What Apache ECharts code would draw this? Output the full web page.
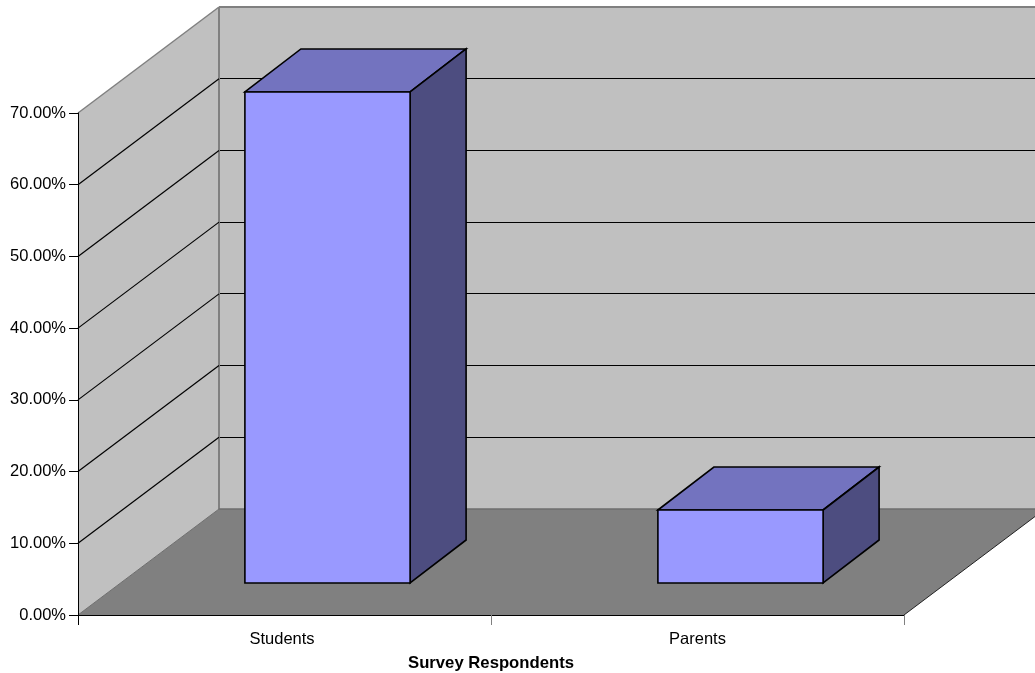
<!DOCTYPE html>
<html>
<head>
<meta charset="utf-8">
<title>Survey Respondents</title>
<style>
  html, body { margin: 0; padding: 0; background: #fff; }
  #chart { width: 1035px; height: 673px; }
</style>
<script src="https://cdn.jsdelivr.net/npm/echarts@6/dist/echarts.min.js"></script>
</head>
<body>
<div id="chart"></div>
<script>
// Share of respondents per group, in percent
const categories = ['Students', 'Parents'];
const shareValues = [68.47, 10.18];
const gridValues = [10, 20, 30, 40, 50, 60];
const axisTitle = 'Survey Respondents';

// Oblique projection used for the fake 3D box
const WALL_DX = 141, WALL_DY = -106;   // front plane to back wall
const BAR_DX = 56, BAR_DY = -43;       // depth of one column
const BAR_SHIFT_X = 43, BAR_SHIFT_Y = -32; // columns stand inside the floor
const BAR_BAND_RATIO = 0.4;

const WALL = '#c0c0c0', FLOOR = '#808080', EDGE = '#808080';
const FACE = '#9999ff', TOP = '#7373bf', SIDE = '#4d4d80';

const poly = (points, fill, stroke, width) => ({
  type: 'polygon',
  shape: { points },
  style: { fill, stroke: stroke || fill, lineWidth: width === undefined ? 1 : width, lineJoin: 'miter' }
});
const line = (a, b, stroke, width) => ({
  type: 'line',
  shape: { x1: a[0], y1: a[1], x2: b[0], y2: b[1] },
  style: { stroke, lineWidth: width, fill: null }
});

// Walls and floor of the plot box
function renderShell(params, api) {
  const rect = params.coordSys;
  const l = rect.x, r = rect.x + rect.width, t = rect.y, b = rect.y + rect.height;
  const dx = WALL_DX, dy = WALL_DY;
  return {
    type: 'group',
    children: [
      poly([[l + dx, t + dy], [r + dx, t + dy], [r + dx, b + dy], [l + dx, b + dy]], WALL, WALL, 0),
      poly([[l, t], [l + dx, t + dy], [l + dx, b + dy], [l, b]], WALL, WALL, 0),
      poly([[l, b], [l + dx, b + dy], [r + dx, b + dy], [r, b]], FLOOR, FLOOR, 0),
      line([l, t], [l + dx, t + dy], EDGE, 1.5),
      line([l + dx, t + dy], [r + dx, t + dy], EDGE, 2),
      line([l + dx, t + dy], [l + dx, b + dy], EDGE, 2),
      line([l + dx, b + dy], [r + dx, b + dy], '#6e6e6e', 1.5),
      line([l, b], [l + dx, b + dy], '#6e6e6e', 1),
      line([r, b], [r + dx, b + dy], '#222222', 1)
    ]
  };
}

// One gridline: diagonal on the side wall, horizontal on the back wall
function renderGridline(params, api) {
  const rect = params.coordSys;
  const y = api.coord([0, api.value(0)])[1];
  const a = [rect.x, y];
  const c = [rect.x + WALL_DX, y + WALL_DY];
  const rowY = Math.floor(c[1]) + 0.5;
  return {
    type: 'group',
    children: [
      line(a, c, '#000000', 1.2),
      line([c[0] + 1, rowY], [rect.x + rect.width + WALL_DX, rowY], '#000000', 1)
    ]
  };
}

// Column drawn as front, top and side faces
function renderColumn(params, api) {
  const band = api.size([1, 0])[0];
  const w = band * BAR_BAND_RATIO;
  const cx = api.coord([api.value(0), 0])[0] + BAR_SHIFT_X;
  const y0 = api.coord([0, 0])[1] + BAR_SHIFT_Y;
  const y1 = api.coord([0, api.value(1)])[1] + BAR_SHIFT_Y;
  const xl = cx - w / 2, xr = cx + w / 2;
  const dx = BAR_DX, dy = BAR_DY, s = '#000000', lw = 1.6;
  return {
    type: 'group',
    children: [
      poly([[xl, y1], [xl + dx, y1 + dy], [xr + dx, y1 + dy], [xr, y1]], TOP, s, lw),
      poly([[xr, y1], [xr + dx, y1 + dy], [xr + dx, y0 + dy], [xr, y0]], SIDE, s, lw),
      poly([[xl, y1], [xr, y1], [xr, y0], [xl, y0]], FACE, s, lw)
    ]
  };
}

// The leftmost category tick continues the black value axis
function renderFirstTick(params, api) {
  const rect = params.coordSys;
  const b = rect.y + rect.height;
  return line([rect.x + 0.5, b], [rect.x + 0.5, b + 10], '#000000', 1);
}

const labelStyle = { color: '#000000', fontFamily: '"Liberation Sans", Arial, sans-serif', fontSize: 16.5 };

const chart = echarts.init(document.getElementById('chart'), null, { renderer: 'canvas' });
chart.setOption({
  animation: false,
  backgroundColor: '#ffffff',
  grid: { left: 78, right: 131, top: 113, bottom: 58, containLabel: false, outerBoundsMode: 'none' },
  xAxis: {
    type: 'category',
    data: categories.map((name, i) => ({ value: name, textStyle: i === 0 ? { padding: [0, 5, 0, 0] } : {} })),
    z: 10,
    name: axisTitle,
    nameLocation: 'middle',
    nameGap: 40,
    nameTextStyle: { ...labelStyle, fontWeight: 'bold', fontSize: 16.7 },
    axisLine: { show: true, lineStyle: { color: '#000000', width: 1 } },
    axisTick: { show: true, length: 10, alignWithLabel: false, lineStyle: { color: '#808080', width: 1 } },
    axisLabel: { ...labelStyle, margin: 16 },
    splitLine: { show: false }
  },
  yAxis: {
    type: 'value',
    min: 0,
    max: 70,
    interval: 10,
    z: 10,
    axisLine: { show: true, lineStyle: { color: '#000000', width: 1 } },
    axisTick: { show: true, length: 9, lineStyle: { color: '#000000', width: 1 } },
    axisLabel: { ...labelStyle, margin: 12, formatter: v => v.toFixed(2) + '%' },
    splitLine: { show: false }
  },
  series: [
    { type: 'custom', name: 'shell', z: 1, silent: true, renderItem: renderShell, data: [0] },
    { type: 'custom', name: 'gridlines', z: 2, silent: true, renderItem: renderGridline, encode: { y: 0 }, data: gridValues.map(v => [v]) },
    {
      type: 'custom', name: 'share', z: 3, silent: true, renderItem: renderColumn,
      encode: { x: 0, y: 1 },
      data: shareValues.map((v, i) => [i, v])
    },
    { type: 'custom', name: 'firstTick', z: 12, silent: true, renderItem: renderFirstTick, data: [0] }
  ]
});
</script>
</body>
</html>
